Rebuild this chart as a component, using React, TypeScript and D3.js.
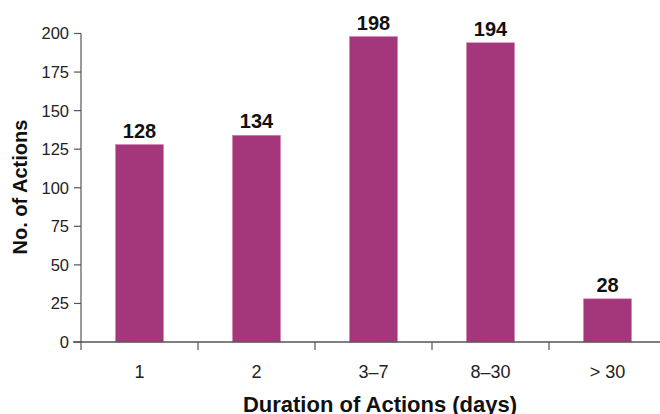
import { useEffect, useRef } from 'react';
import * as d3 from 'd3';

const categories = ['1', '2', '3–7', '8–30', '> 30'];
const actions = [128, 134, 198, 194, 28];
const yTicks = [0, 25, 50, 75, 100, 125, 150, 175, 200];

const W = 660;
const H = 414;

export default function App() {
  const ref = useRef<SVGSVGElement>(null);

  useEffect(() => {
    const svg = d3.select(ref.current);
    svg.selectAll('*').remove();

    const left = 81;
    const bottom = 342;
    const font = '"Liberation Sans", Arial, Helvetica, sans-serif';

    const x = d3.scaleBand<string>()
      .domain(categories)
      .range([left, left + 117 * categories.length])
      .paddingInner(0.59)
      .paddingOuter(0.295);
    const y = d3.scaleLinear().domain([0, 200]).range([bottom, 33.5]);

    const g = svg.append('g').attr('font-family', font);

    // bars
    g.selectAll('rect.bar')
      .data(actions)
      .join('rect')
      .attr('class', 'bar')
      .attr('x', (_, i) => x(categories[i])!)
      .attr('y', d => y(d))
      .attr('width', x.bandwidth())
      .attr('height', d => bottom - y(d))
      .attr('fill', '#a4367b')
      .attr('stroke', '#d27fb3')
      .attr('stroke-width', 0.6);

    // value labels
    g.selectAll('text.val')
      .data(actions)
      .join('text')
      .attr('class', 'val')
      .attr('x', (_, i) => x(categories[i])! + x.bandwidth() / 2)
      .attr('y', d => y(d) - 7)
      .attr('text-anchor', 'middle')
      .attr('font-size', 20)
      .attr('font-weight', 'bold')
      .attr('fill', '#111')
      .text(d => d);

    // y axis
    const axisColor = '#555';
    g.append('line')
      .attr('x1', left).attr('x2', left)
      .attr('y1', y(200)).attr('y2', bottom)
      .attr('stroke', axisColor).attr('stroke-width', 1.2);
    yTicks.forEach(t => {
      g.append('line')
        .attr('x1', left - 7).attr('x2', left)
        .attr('y1', y(t)).attr('y2', y(t))
        .attr('stroke', axisColor).attr('stroke-width', 1.2);
      g.append('text')
        .attr('x', left - 12)
        .attr('y', y(t))
        .attr('dy', '0.36em')
        .attr('text-anchor', 'end')
        .attr('font-size', 16.5)
        .attr('fill', '#222')
        .text(t);
    });

    // x axis
    g.append('line')
      .attr('x1', left - 8).attr('x2', W)
      .attr('y1', bottom).attr('y2', bottom)
      .attr('stroke', axisColor).attr('stroke-width', 1.4);
    const step = x.step();
    d3.range(categories.length + 1).forEach(i => {
      const px = left + i * step;
      g.append('line')
        .attr('x1', px).attr('x2', px)
        .attr('y1', bottom).attr('y2', bottom + 8)
        .attr('stroke', axisColor).attr('stroke-width', 1.2);
    });
    g.selectAll('text.cat')
      .data(categories)
      .join('text')
      .attr('class', 'cat')
      .attr('x', d => x(d)! + x.bandwidth() / 2)
      .attr('y', 378)
      .attr('text-anchor', 'middle')
      .attr('font-size', 18)
      .attr('fill', '#222')
      .text(d => d);

    // axis titles
    g.append('text')
      .attr('x', 380)
      .attr('y', 412)
      .attr('text-anchor', 'middle')
      .attr('font-size', 22)
      .attr('font-weight', 'bold')
      .attr('fill', '#111')
      .text('Duration of Actions (days)');
    g.append('text')
      .attr('transform', 'translate(27,187) rotate(-90)')
      .attr('text-anchor', 'middle')
      .attr('font-size', 20)
      .attr('font-weight', 'bold')
      .attr('fill', '#111')
      .text('No. of Actions');
  }, []);

  return (
    <svg
      ref={ref}
      width={W}
      height={H}
      style={{ position: 'absolute', left: 0, top: 0, background: '#fff' }}
    />
  );
}
